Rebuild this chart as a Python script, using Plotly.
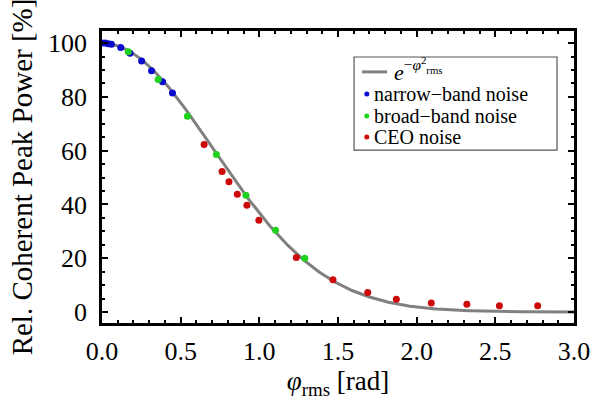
import numpy as np
import plotly.graph_objects as go

# ---- data ----
narrow_x = [0.0, 0.02, 0.04, 0.06, 0.119, 0.178, 0.252, 0.315, 0.385, 0.448]
narrow_y = [100.0, 100.0, 99.8, 99.6, 98.4, 96.2, 93.3, 89.7, 85.6, 81.4]

broad_x = [0.167, 0.357, 0.543, 0.727, 0.915, 1.103, 1.289]
broad_y = [96.8, 86.5, 72.8, 58.6, 43.4, 30.4, 20.0]

ceo_x = [0.649, 0.763, 0.807, 0.860, 0.921, 0.997, 1.235, 1.468, 1.689, 1.871,
         2.093, 2.319, 2.526, 2.769]
ceo_y = [62.3, 52.2, 48.4, 43.8, 39.7, 34.1, 20.3, 12.0, 7.2, 4.7,
         3.3, 2.9, 2.3, 2.3]

# model curve exp(-phi^2) in percent
phi = np.linspace(0.0, 3.0, 301)
model = 100.0 * np.exp(-phi ** 2)

x_ticks = [0.0, 0.5, 1.0, 1.5, 2.0, 2.5, 3.0]
x_tick_text = ["0.0", "0.5", "1.0", "1.5", "2.0", "2.5", "3.0"]
y_ticks = [0, 20, 40, 60, 80, 100]

BLUE = "#0a0acc"
GREEN = "#1ed21e"
RED = "#cc0a0a"
GRAY = "#808080"
FONT = "Liberation Serif"

fig = go.Figure()
fig.add_trace(go.Scatter(x=phi, y=model, mode="lines",
                         line=dict(color=GRAY, width=3), showlegend=False))
fig.add_trace(go.Scatter(x=narrow_x, y=narrow_y, mode="markers",
                         marker=dict(color=BLUE, size=7), showlegend=False))
fig.add_trace(go.Scatter(x=broad_x, y=broad_y, mode="markers",
                         marker=dict(color=GREEN, size=7), showlegend=False))
fig.add_trace(go.Scatter(x=ceo_x, y=ceo_y, mode="markers",
                         marker=dict(color=RED, size=7), showlegend=False))

axis_common = dict(showline=True, linewidth=2.5, linecolor="black", mirror="ticks",
                   ticks="inside", ticklen=6, tickwidth=2, tickcolor="black",
                   showgrid=False, zeroline=False, automargin=False,
                   tickfont=dict(family=FONT, size=26, color="black"))

fig.update_xaxes(range=[0, 3], tickvals=x_ticks, ticktext=x_tick_text,
                 minor=dict(ticks="inside", dtick=0.1, ticklen=3, tickwidth=1.5,
                            tickcolor="black", showgrid=False),
                 ticklabelstandoff=3,
                 title=dict(text="<i>φ</i><sub>rms</sub> [rad]",
                            font=dict(family=FONT, size=27, color="black"),
                            standoff=7),
                 **axis_common)
fig.update_yaxes(range=[-4.1, 104.5], tickvals=y_ticks,
                 minor=dict(ticks="inside", dtick=5, ticklen=3, tickwidth=1.5,
                            tickcolor="black", showgrid=False),
                 ticklabelstandoff=7,
                 title=dict(text="Rel. Coherent Peak Power [%]",
                            font=dict(family=FONT, size=29, color="black"),
                            standoff=7),
                 **axis_common)

# ---- manual legend box (paper coordinates) ----
lx0, lx1, ly0, ly1 = 0.534, 0.964, 0.592, 0.911
fig.add_shape(type="rect", xref="paper", yref="paper", x0=lx0, x1=lx1, y0=ly0, y1=ly1,
              line=dict(color="#555555", width=1.2), fillcolor="white", layer="above")
fig.add_shape(type="line", xref="paper", yref="paper", x0=0.551, x1=0.604, y0=0.860, y1=0.860,
              line=dict(color=GRAY, width=3), layer="above")
fig.add_annotation(xref="paper", yref="paper", x=0.615, y=0.868, xanchor="left", yanchor="middle",
                   text="<i>e</i><sup>−<i>φ</i><sup>2</sup><sub>rms</sub></sup>",
                   showarrow=False, font=dict(family=FONT, size=22, color="black"))
rows = [(0.784, BLUE, "narrow−band noise"),
        (0.709, GREEN, "broad−band noise"),
        (0.637, RED, "CEO noise")]
for yy, col, label in rows:
    fig.add_shape(type="circle", xref="paper", yref="paper", xsizemode="pixel", ysizemode="pixel",
                  xanchor=0.561, yanchor=yy, x0=-2.5, x1=2.5, y0=-2.5, y1=2.5,
                  fillcolor=col, line=dict(width=0), layer="above")
    fig.add_annotation(xref="paper", yref="paper", x=0.573, y=yy, xanchor="left", yanchor="middle",
                       text=label, showarrow=False,
                       font=dict(family=FONT, size=20, color="black"))

fig.update_layout(width=592, height=405, margin=dict(l=102, r=18, t=31, b=82),
                  plot_bgcolor="white", paper_bgcolor="white")

fig.write_html("out.html",
               config={"displayModeBar": False},
               post_script="document.body.style.margin='0';"
                           "document.body.style.overflow='hidden';")
